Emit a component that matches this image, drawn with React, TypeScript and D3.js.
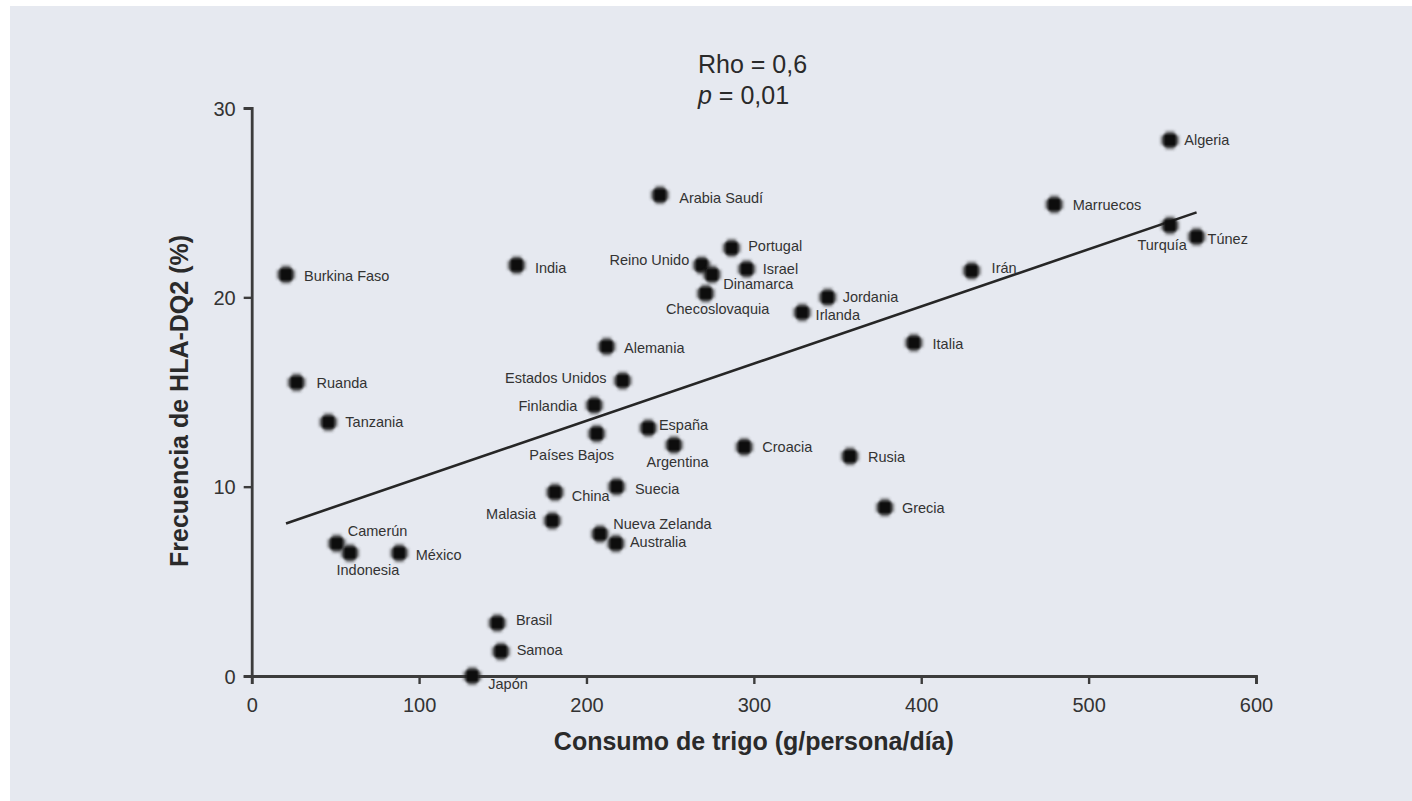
import React, { useEffect, useRef } from "react";
import * as d3 from "d3";

// Country names, wheat consumption (g/person/day) and HLA-DQ2 frequency (%)
const countries = [
  "Burkina Faso", "Ruanda", "Tanzania", "Camerún", "Indonesia", "México",
  "India", "Brasil", "Samoa", "Japón", "Arabia Saudí", "Alemania",
  "Estados Unidos", "Finlandia", "Países Bajos", "España", "Argentina", "Croacia",
  "China", "Suecia", "Malasia", "Nueva Zelanda", "Australia", "Reino Unido",
  "Dinamarca", "Portugal", "Israel", "Checoslovaquia", "Jordania", "Irlanda",
  "Italia", "Rusia", "Grecia", "Irán", "Marruecos", "Algeria", "Turquía", "Túnez",
];
const wheatConsumption = [
  20.5, 26.8, 45.8, 50.8, 58.7, 88.2,
  158.3, 146.7, 148.9, 131.8, 243.9, 212.1,
  221.6, 204.7, 206.1, 236.9, 252.3, 294.3,
  181.2, 218.0, 179.6, 208.1, 217.6, 268.8,
  275.0, 286.7, 295.7, 271.2, 344.1, 328.9,
  395.6, 357.4, 378.3, 430.1, 479.5, 548.6, 548.6, 564.5,
];
const dq2Frequency = [
  21.2, 15.5, 13.4, 7.0, 6.5, 6.5,
  21.7, 2.8, 1.3, 0.0, 25.4, 17.4,
  15.6, 14.3, 12.8, 13.1, 12.2, 12.1,
  9.7, 10.0, 8.2, 7.5, 7.0, 21.7,
  21.2, 22.6, 21.5, 20.2, 20.0, 19.2,
  17.6, 11.6, 8.9, 21.4, 24.9, 28.3, 23.8, 23.2,
];

// Fitted trend line: frequency = intercept + slope * consumption
const trendIntercept = 7.44;
const trendSlope = 0.0302;

const xTicks = [0, 100, 200, 300, 400, 500, 600];
const yTicks = [0, 10, 20, 30];

const statLines = ["Rho = 0,6", "0,01"];

// Label placement next to each marker: [dx, dy, anchor]
const labelPlacement: Record<string, [number, number, string]> = {
  "Burkina Faso": [18, 1, "start"],
  Ruanda: [20, 0, "start"],
  Tanzania: [17, 0, "start"],
  "Camerún": [11, -12.5, "start"],
  Indonesia: [18, 16.7, "middle"],
  "México": [16.4, 1.7, "start"],
  India: [18.3, 3, "start"],
  Brasil: [18.7, -3, "start"],
  Samoa: [15.7, -1, "start"],
  "Japón": [16, 8, "start"],
  "Arabia Saudí": [19.3, 2.7, "start"],
  Alemania: [17.3, 1.6, "start"],
  "Estados Unidos": [-16, -3, "end"],
  Finlandia: [-17, 1, "end"],
  "Países Bajos": [-25, 21, "middle"],
  "España": [10.7, -2.7, "start"],
  Argentina: [3.5, 16.7, "middle"],
  Croacia: [18, 0, "start"],
  China: [16.7, 3.4, "start"],
  Suecia: [18.3, 2, "start"],
  Malasia: [-16.3, -6.7, "end"],
  "Nueva Zelanda": [13.3, -10, "start"],
  Australia: [14, -1.6, "start"],
  "Reino Unido": [-12.4, -5, "end"],
  Dinamarca: [11.3, 9.3, "start"],
  Portugal: [16.6, -2, "start"],
  Israel: [16, 0, "start"],
  Checoslovaquia: [12, 15, "middle"],
  Jordania: [15, 0, "start"],
  Irlanda: [13.4, 2.7, "start"],
  Italia: [18.7, 1, "start"],
  Rusia: [18, 1, "start"],
  Grecia: [17, 0, "start"],
  "Irán": [20, -3.4, "start"],
  Marruecos: [18.4, 0, "start"],
  Algeria: [14.3, 0, "start"],
  "Turquía": [-7.8, 19.7, "middle"],
  "Túnez": [11, 2.3, "start"],
};

const WIDTH = 1412;
const HEIGHT = 801;
const FONT = "'Liberation Sans', Arial, Helvetica, sans-serif";

export default function App() {
  const ref = useRef<SVGSVGElement | null>(null);

  useEffect(() => {
    const svg = d3.select(ref.current);
    svg.selectAll("*").remove();

    const x = d3.scaleLinear().domain([0, 600]).range([251.7, 1256]);
    const y = d3.scaleLinear().domain([0, 30]).range([676, 108]);

    const defs = svg.append("defs");
    defs
      .append("filter")
      .attr("id", "soft")
      .attr("x", "-50%")
      .attr("y", "-50%")
      .attr("width", "200%")
      .attr("height", "200%")
      .append("feGaussianBlur")
      .attr("stdDeviation", 1.5);
    defs
      .append("filter")
      .attr("id", "softCore")
      .attr("x", "-50%")
      .attr("y", "-50%")
      .attr("width", "200%")
      .attr("height", "200%")
      .append("feGaussianBlur")
      .attr("stdDeviation", 0.8);

    // page and panel
    svg.append("rect").attr("width", WIDTH).attr("height", HEIGHT).attr("fill", "#ffffff");
    svg
      .append("rect")
      .attr("x", 10)
      .attr("y", 6)
      .attr("width", WIDTH - 10)
      .attr("height", HEIGHT - 6)
      .attr("fill", "#e6e9f0");

    // axes
    const axisColor = "#3c3c3c";
    const gx = svg
      .append("g")
      .attr("transform", `translate(0,${y(0)})`)
      .call(d3.axisBottom(x).tickValues(xTicks).tickSize(8).tickPadding(10).tickFormat(d3.format("d")));
    const gy = svg
      .append("g")
      .attr("transform", `translate(${x(0)},0)`)
      .call(d3.axisLeft(y).tickValues(yTicks).tickSize(8).tickPadding(8).tickFormat(d3.format("d")));
    for (const g of [gx, gy]) {
      g.select(".domain").attr("stroke", axisColor).attr("stroke-width", 2.8);
      g.selectAll(".tick line").attr("stroke", axisColor).attr("stroke-width", 2.4);
      g.selectAll(".tick text")
        .attr("fill", "#333")
        .style("font-family", FONT)
        .style("font-size", "20px");
    }
    gx.selectAll(".tick text").attr("dy", "0.9em");
    gy.selectAll(".tick text").attr("dy", "0.36em");

    // trend line across the observed consumption range
    const [xMin, xMax] = d3.extent(wheatConsumption) as [number, number];
    const trend = [xMin, xMax].map((v) => [v, trendIntercept + trendSlope * v] as [number, number]);
    svg
      .append("path")
      .attr(
        "d",
        d3
          .line<[number, number]>()
          .x((d) => x(d[0]))
          .y((d) => y(d[1]))(trend)
      )
      .attr("stroke", "#262626")
      .attr("stroke-width", 2.6)
      .attr("fill", "none");

    // markers
    const pts = countries.map((name, i) => ({ name, cx: x(wheatConsumption[i]), cy: y(dq2Frequency[i]) }));
    const mk = svg.append("g");
    const node = mk
      .selectAll("g")
      .data(pts)
      .join("g")
      .attr("transform", (d) => `translate(${d.cx},${d.cy})`);
    node
      .append("path")
      .attr("d", "M-9,-4.5H-4.5V-9H4.5V-4.5H9V4.5H4.5V9H-4.5V4.5H-9Z")
      .attr("fill", "#333")
      .attr("opacity", 0.7)
      .attr("filter", "url(#soft)");
    node
      .append("rect")
      .attr("x", -6.3)
      .attr("y", -6.3)
      .attr("width", 12.6)
      .attr("height", 12.6)
      .attr("rx", 1.5)
      .attr("fill", "#0c0c0c")
      .attr("filter", "url(#softCore)");

    // country labels
    svg
      .append("g")
      .selectAll("text")
      .data(pts)
      .join("text")
      .attr("x", (d) => d.cx + labelPlacement[d.name][0])
      .attr("y", (d) => d.cy + labelPlacement[d.name][1])
      .attr("dy", "0.35em")
      .attr("text-anchor", (d) => labelPlacement[d.name][2])
      .attr("fill", "#333")
      .style("font-family", FONT)
      .style("font-size", "14.5px")
      .text((d) => d.name);

    // statistics
    const stat = svg
      .append("g")
      .style("font-family", FONT)
      .style("font-size", "25px")
      .attr("fill", "#2a2a2a");
    stat.append("text").attr("x", 698).attr("y", 73).text(statLines[0]);
    const p = stat.append("text").attr("x", 698).attr("y", 104);
    p.append("tspan").style("font-style", "italic").text("p");
    p.append("tspan").text(" = " + statLines[1]);

    // axis titles
    svg
      .append("text")
      .attr("x", (x(0) + x(600)) / 2)
      .attr("y", 750)
      .attr("text-anchor", "middle")
      .attr("fill", "#2a2a2a")
      .style("font-family", FONT)
      .style("font-size", "25px")
      .style("font-weight", "bold")
      .text("Consumo de trigo (g/persona/día)");
    svg
      .append("text")
      .attr("transform", `translate(188,${(y(0) + y(30)) / 2 + 9}) rotate(-90)`)
      .attr("text-anchor", "middle")
      .attr("fill", "#2a2a2a")
      .style("font-family", FONT)
      .style("font-size", "25px")
      .style("font-weight", "bold")
      .text("Frecuencia de HLA-DQ2 (%)");
  }, []);

  return (
    <svg
      ref={ref}
      width={WIDTH}
      height={HEIGHT}
      style={{ position: "absolute", left: 0, top: 0, display: "block" }}
    />
  );
}
